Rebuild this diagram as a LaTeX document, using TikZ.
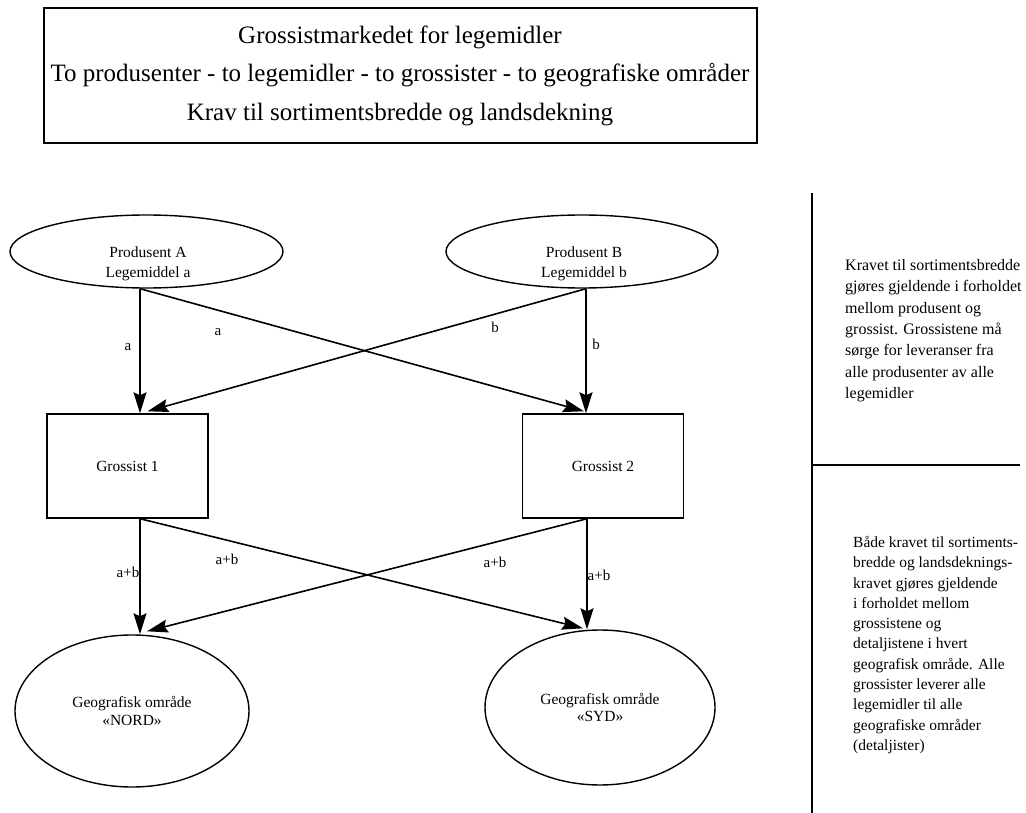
\documentclass[tikz,border=0pt]{standalone}
\usepackage{fontspec}
\setmainfont{Liberation Serif}
\usetikzlibrary{shapes.geometric,arrows.meta,calc}

\tikzset{
  unit/.style={draw, line width=1.4pt},
  boxnode/.style={unit, rectangle, minimum width=161pt, minimum height=104pt, inner sep=0pt,
                  font=\fontsize{15.5}{18}\selectfont},
  topoval/.style={unit, ellipse, minimum width=273pt, minimum height=73pt, inner sep=0pt},
  areaoval/.style={unit, ellipse, inner sep=0pt, align=center,
                   font=\fontsize{15.5}{17.5}\selectfont},
  ovaltext/.style={align=center, inner sep=0pt, font=\fontsize{15.5}{20}\selectfont},
  flow/.style={line width=1.6pt, -{Stealth[length=21pt, width=13pt, inset=3pt]}},
  flowlabel/.style={inner sep=0pt, font=\fontsize{15}{18}\selectfont},
  sidetext/.style={anchor=north west, align=left, inner sep=0pt},
  headline/.style={anchor=base, inner sep=0pt, font=\fontsize{25}{30}\selectfont},
  divider/.style={line width=2.6pt},
}

\begin{document}
\begin{tikzpicture}[x=1pt, y=-1pt]
\useasboundingbox (0,0) rectangle (1026,813);

% heading
\draw[line width=2pt] (44,8) rectangle (757,143);
\node (h1) [headline] at (400,43.5) {Grossistmarkedet for legemidler};
\node (h2) [headline] at (400,82) {To produsenter - to legemidler - to grossister - to geografiske områder};
\node (h3) [headline] at (400,120.5) {Krav til sortimentsbredde og landsdekning};

% producers
\node (pa) [topoval] at (146.5,251.5) {};
\node (pat) [ovaltext] at (148,264) {Produsent A\\Legemiddel a};
\node (pb) [topoval, minimum width=272pt] at (582,251.5) {};
\node (pbt) [ovaltext] at (584,264) {Produsent B\\Legemiddel b};

% wholesalers
\node (g1) [boxnode] at (127.5,466) {Grossist 1};
\node (g2) [boxnode] at (603,466) {Grossist 2};

% regions
\node (nord) [areaoval, minimum width=234pt, minimum height=152pt] at (132,711) {Geografisk område\\«NORD»};
\node (syd) [areaoval, minimum width=230pt, minimum height=155pt] at (600,707.5) {Geografisk område\\«SYD»};

% connector ports
\coordinate (pa-o) at ($(pa.south)+(-6.5,0)$);
\coordinate (pb-o) at ($(pb.south)+(4,0)$);
\coordinate (g1-o) at ($(g1.south)+(12.5,0)$);
\coordinate (g2-o) at ($(g2.south)+(-16,0)$);

% producers -> wholesalers
\draw[flow] (pa-o) -- (g1.north -| pa-o);
\draw[flow] (pa-o) -- ($(g2.north)+(-19,-2)$);
\draw[flow] (pb-o) -- (g2.north -| pb-o);
\draw[flow] (pb-o) -- ($(g1.north)+(20,-2)$);

% wholesalers -> regions
\draw[flow] (g1-o) -- (nord.north -| g1-o);
\draw[flow] (g1-o) -- ($(syd.north)+(-17,-1)$);
\draw[flow] (g2-o) -- (syd.north -| g2-o);
\draw[flow] (g2-o) -- ($(nord.north)+(15,-3)$);

% flow labels
\node (la1) [flowlabel] at (128,347) {a};
\node (la2) [flowlabel] at (218,332) {a};
\node (lb1) [flowlabel] at (495,327) {b};
\node (lb2) [flowlabel] at (596,344) {b};
\node (lc1) [flowlabel] at (128,572) {a+b};
\node (lc2) [flowlabel] at (227,559) {a+b};
\node (lc3) [flowlabel] at (495,562) {a+b};
\node (lc4) [flowlabel] at (599,575) {a+b};

% side panel
\coordinate (d-top) at (812,193);
\coordinate (d-bot) at (812,813);
\coordinate (d-mid) at (812,465);
\coordinate (d-end) at (1020,465);
\draw[divider] (d-top) -- (d-bot);
\draw[divider] (d-mid) -- (d-end);

\node (s1) [sidetext, font=\fontsize{16}{21.4}\selectfont] at (845,259)
  {Kravet til sortimentsbredde\\gjøres gjeldende i forholdet\\mellom produsent og\\grossist. Grossistene må\\sørge for leveranser fra\\alle produsenter av alle\\legemidler};
\node (s2) [sidetext, font=\fontsize{15.5}{20.3}\selectfont] at (853,536)
  {Både kravet til sortiments-\\bredde og landsdeknings-\\kravet gjøres gjeldende\\i forholdet mellom\\grossistene og\\detaljistene i hvert\\geografisk område. Alle\\grossister leverer alle\\legemidler til alle\\geografiske områder\\(detaljister)};
\end{tikzpicture}
\end{document}
